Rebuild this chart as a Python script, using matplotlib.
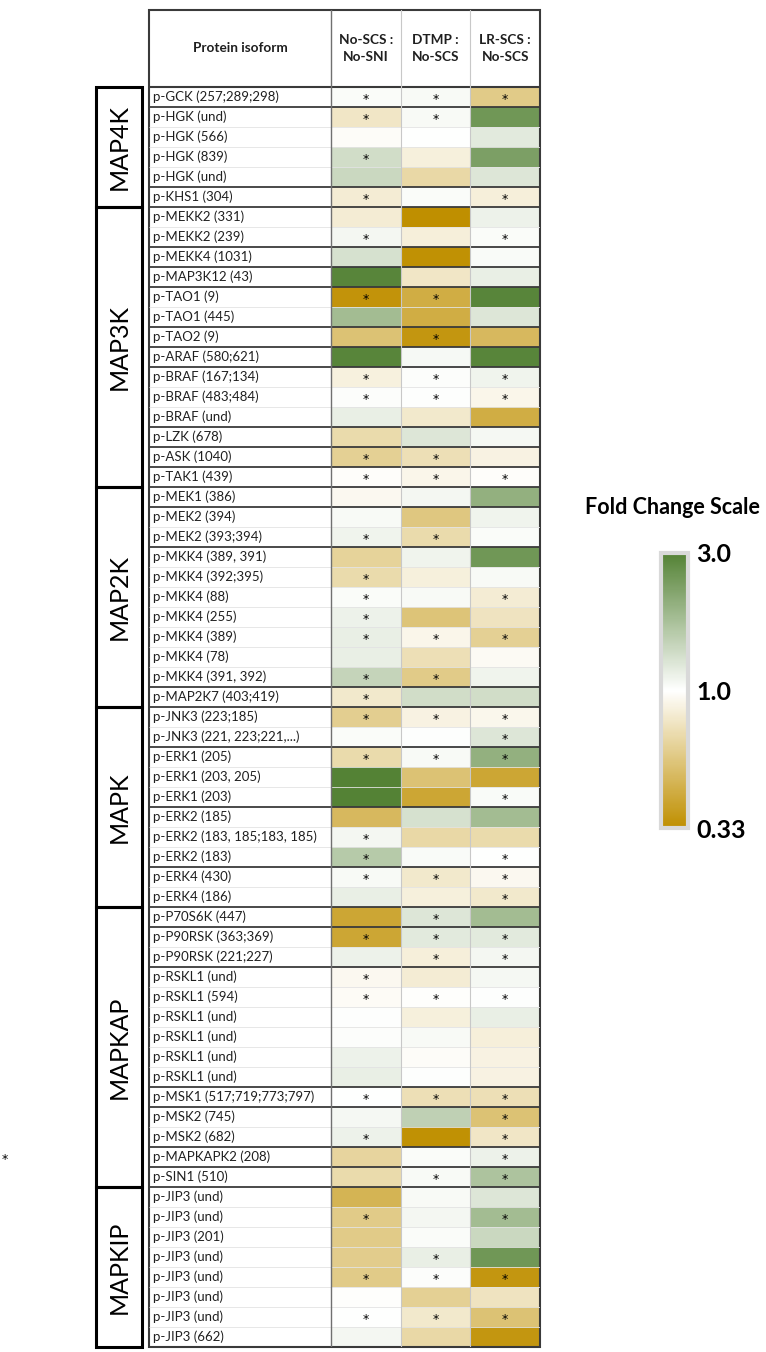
import numpy as np
import matplotlib
matplotlib.use('Agg')
import matplotlib.pyplot as plt
from matplotlib.colors import LinearSegmentedColormap, LogNorm
from matplotlib.patches import Rectangle

plt.rcParams['font.family'] = ['Lato', 'DejaVu Sans']

# ---------------- data ----------------
groups = ['MAP4K', 'MAP3K', 'MAP2K', 'MAPK', 'MAPKAP', 'MAPKIP']
group_sizes = [6, 14, 11, 10, 14, 8]
columns = ['No-SCS :\nNo-SNI', 'DTMP :\nNo-SCS', 'LR-SCS :\nNo-SCS']

isoforms = [
    'p-GCK (257;289;298)', 'p-HGK (und)', 'p-HGK (566)', 'p-HGK (839)', 'p-HGK (und)', 'p-KHS1 (304)',
    'p-MEKK2 (331)', 'p-MEKK2 (239)', 'p-MEKK4 (1031)', 'p-MAP3K12 (43)', 'p-TAO1 (9)', 'p-TAO1 (445)',
    'p-TAO2 (9)', 'p-ARAF (580;621)', 'p-BRAF (167;134)', 'p-BRAF (483;484)', 'p-BRAF (und)',
    'p-LZK (678)', 'p-ASK (1040)', 'p-TAK1 (439)',
    'p-MEK1 (386)', 'p-MEK2 (394)', 'p-MEK2 (393;394)', 'p-MKK4 (389, 391)', 'p-MKK4 (392;395)',
    'p-MKK4 (88)', 'p-MKK4 (255)', 'p-MKK4 (389)', 'p-MKK4 (78)', 'p-MKK4 (391, 392)', 'p-MAP2K7 (403;419)',
    'p-JNK3 (223;185)', 'p-JNK3 (221, 223;221,...)', 'p-ERK1 (205)', 'p-ERK1 (203, 205)', 'p-ERK1 (203)',
    'p-ERK2 (185)', 'p-ERK2 (183, 185;183, 185)', 'p-ERK2 (183)', 'p-ERK4 (430)', 'p-ERK4 (186)',
    'p-P70S6K (447)', 'p-P90RSK (363;369)', 'p-P90RSK (221;227)', 'p-RSKL1 (und)', 'p-RSKL1 (594)',
    'p-RSKL1 (und)', 'p-RSKL1 (und)', 'p-RSKL1 (und)', 'p-RSKL1 (und)', 'p-MSK1 (517;719;773;797)',
    'p-MSK2 (745)', 'p-MSK2 (682)', 'p-MAPKAPK2 (208)', 'p-SIN1 (510)',
    'p-JIP3 (und)', 'p-JIP3 (und)', 'p-JIP3 (201)', 'p-JIP3 (und)', 'p-JIP3 (und)', 'p-JIP3 (und)',
    'p-JIP3 (und)', 'p-JIP3 (662)',
]

fc_noscs_nosni = [
    1.03, 0.78, 0.97, 1.35, 1.40, 0.83,
    0.83, 1.08, 1.30, 2.90, 0.35, 1.80, 0.55, 2.90, 0.87, 1.02, 1.15, 0.70, 0.63, 0.98,
    0.94, 1.05, 1.10, 0.65, 0.70, 1.03, 1.12, 1.15, 1.15, 1.45, 0.80,
    0.62, 1.03, 0.70, 3.00, 3.00, 0.50, 1.08, 1.60, 1.05, 1.15,
    0.42, 0.42, 1.12, 0.94, 0.96, 1.01, 1.02, 1.12, 1.15, 1.00, 1.07, 1.12, 0.66, 0.70,
    0.48, 0.60, 0.60, 0.61, 0.60, 0.99, 1.00, 1.08,
]
fc_dtmp_noscs = [
    1.05, 1.05, 1.00, 0.86, 0.68, 1.03,
    0.33, 0.85, 0.34, 0.78, 0.45, 0.45, 0.36, 1.06, 1.02, 1.01, 0.80, 1.25, 0.73, 0.91,
    1.08, 0.58, 0.70, 1.10, 0.86, 1.05, 0.56, 0.91, 0.73, 0.60, 1.35,
    0.88, 1.01, 1.05, 0.55, 0.42, 1.30, 0.68, 1.04, 0.80, 0.86,
    1.25, 1.20, 0.85, 0.83, 0.99, 0.86, 1.05, 0.97, 1.01, 0.73, 1.50, 0.34, 1.03, 1.05,
    1.05, 1.08, 1.03, 1.15, 1.02, 0.63, 0.80, 0.68,
]
fc_lrscs_noscs = [
    0.60, 2.50, 1.20, 2.30, 1.25, 0.85,
    1.12, 1.03, 1.04, 1.15, 2.90, 1.25, 0.50, 2.90, 1.10, 0.91, 0.45, 1.07, 0.88, 0.98,
    2.00, 1.10, 1.03, 2.50, 1.05, 0.83, 0.76, 0.63, 0.95, 1.10, 1.35,
    0.92, 1.25, 2.00, 0.42, 1.04, 1.80, 0.70, 1.00, 0.94, 0.80,
    1.80, 1.20, 1.08, 1.07, 1.01, 1.15, 0.85, 0.88, 0.88, 0.73, 0.55, 0.78, 1.12, 1.70,
    1.25, 1.80, 1.40, 2.50, 0.36, 0.76, 0.55, 0.36,
]

sig_noscs_nosni = [1, 1, 0, 1, 0, 1,
                   0, 1, 0, 0, 1, 0, 0, 0, 1, 1, 0, 0, 1, 1,
                   0, 0, 1, 0, 1, 1, 1, 1, 0, 1, 1,
                   1, 0, 1, 0, 0, 0, 1, 1, 1, 0,
                   0, 1, 0, 1, 1, 0, 0, 0, 0, 1, 0, 1, 0, 0,
                   0, 1, 0, 0, 1, 0, 1, 0]
sig_dtmp_noscs = [1, 1, 0, 0, 0, 0,
                  0, 0, 0, 0, 1, 0, 1, 0, 1, 1, 0, 0, 1, 1,
                  0, 0, 1, 0, 0, 0, 0, 1, 0, 1, 0,
                  1, 0, 1, 0, 0, 0, 0, 0, 1, 0,
                  1, 1, 1, 0, 1, 0, 0, 0, 0, 1, 0, 0, 0, 1,
                  0, 0, 0, 1, 1, 0, 1, 0]
sig_lrscs_noscs = [1, 0, 0, 0, 0, 1,
                   0, 1, 0, 0, 0, 0, 0, 0, 1, 1, 0, 0, 0, 1,
                   0, 0, 0, 0, 0, 1, 0, 1, 0, 0, 0,
                   1, 1, 1, 0, 1, 0, 0, 1, 1, 1,
                   0, 1, 1, 0, 1, 0, 0, 0, 0, 1, 1, 1, 1, 1,
                   0, 1, 0, 0, 1, 0, 1, 0]

scale_ticks = [1 / 3, 1.0, 3.0]
scale_labels = ['0.33', '1.0', '3.0']

# ---------------- figure ----------------
W, H = 766, 1352
fig = plt.figure(figsize=(W / 100, H / 100), dpi=100)

def fx(px):
    return px / W

def fy(py):
    return 1 - py / H

tab_left, tab_right, tab_top, tab_bot = 149, 540, 10, 1347
cell_w = (tab_right - 331) / 3.0
label_w = (331 - tab_left) / cell_w
n = len(isoforms)
row_h = (tab_bot - 87) / n
head_h = (87 - tab_top) / row_h

ax = fig.add_axes([fx(tab_left), fy(tab_bot), fx(tab_right - tab_left), (tab_bot - tab_top) / H])
ax.set_xlim(-label_w, 3)
ax.set_ylim(n, -head_h)
ax.axis('off')

cmap = LinearSegmentedColormap.from_list('fc', ['#BF8F00', '#FFFFFF', '#548235'])
norm = LogNorm(vmin=scale_ticks[0], vmax=scale_ticks[-1])

data = np.column_stack([fc_noscs_nosni, fc_dtmp_noscs, fc_lrscs_noscs])
sig = np.column_stack([sig_noscs_nosni, sig_dtmp_noscs, sig_lrscs_noscs])
ax.pcolormesh(np.arange(4), np.arange(n + 1), data, cmap=cmap, norm=norm)

txt_col = '#1f1f1f'
for i, lab in enumerate(isoforms):
    ax.text(-label_w + 0.06, i + 0.5, lab, ha='left', va='center', fontsize=9.5, color=txt_col)
    for j in range(3):
        if sig[i, j]:
            ax.text(j + 0.5, i + 0.62, '*', ha='center', va='center', fontsize=9,
                    family='DejaVu Sans', color='black')

# header
ax.text(-label_w / 2, -head_h / 2, 'Protein isoform', ha='center', va='center',
        fontsize=9.8, fontweight='bold', color=txt_col)
for j, c in enumerate(columns):
    ax.text(j + 0.5, -head_h / 2, c, ha='center', va='center', fontsize=9.8,
            fontweight='bold', color=txt_col, linespacing=1.5)

# row separators
proteins = [s.split(' (')[0] for s in isoforms]
for i in range(1, n):
    if proteins[i] != proteins[i - 1]:
        ax.plot([-label_w, 3], [i, i], color='#3a3a3a', lw=1.3, solid_capstyle='butt')
    else:
        ax.plot([-label_w, 3], [i, i], color='#e3e3e3', lw=0.6, solid_capstyle='butt')
ax.plot([-label_w, 3], [0, 0], color='#3a3a3a', lw=1.5)
ax.plot([0, 0], [-head_h, n], color='#707070', lw=1.0)
for xv in (1, 2):
    ax.plot([xv, xv], [-head_h, n], color='#c8c8c8', lw=0.8)
ax.add_patch(Rectangle((-label_w, -head_h), label_w + 3, n + head_h, fill=False,
                       ec='#3a3a3a', lw=1.5, clip_on=False))

# group boxes
axg = fig.add_axes([fx(96), fy(tab_bot), fx(142 - 96), (tab_bot - tab_top) / H])
axg.set_xlim(0, 1)
axg.set_ylim(n, -head_h)
axg.axis('off')
start = 0
for g, s in zip(groups, group_sizes):
    axg.add_patch(Rectangle((0, start), 1, s, fill=False, ec='black', lw=2.2, clip_on=False))
    axg.text(0.5, start + s / 2, g, rotation=90, ha='center', va='center', fontsize=18, color='black')
    start += s

# colour scale
cax = fig.add_axes([fx(661), fy(828), fx(27), (828 - 553) / H])
cb = fig.colorbar(plt.cm.ScalarMappable(norm=norm, cmap=cmap), cax=cax, ticks=scale_ticks)
cb.ax.minorticks_off()
cb.set_ticks(scale_ticks, labels=scale_labels, fontsize=18, fontweight='bold')
cb.ax.tick_params(length=0, pad=6)
cb.outline.set_edgecolor('#d9d9d9')
cb.outline.set_linewidth(3)
fig.text(fx(672), fy(508), 'Fold Change Scale', ha='center', va='center', fontsize=15.5,
         fontweight='bold', color='black')

fig.text(fx(5), fy(1160), '*', ha='center', va='center', fontsize=9, family='DejaVu Sans',
         color='black')

fig.savefig('out.png', dpi=100)
